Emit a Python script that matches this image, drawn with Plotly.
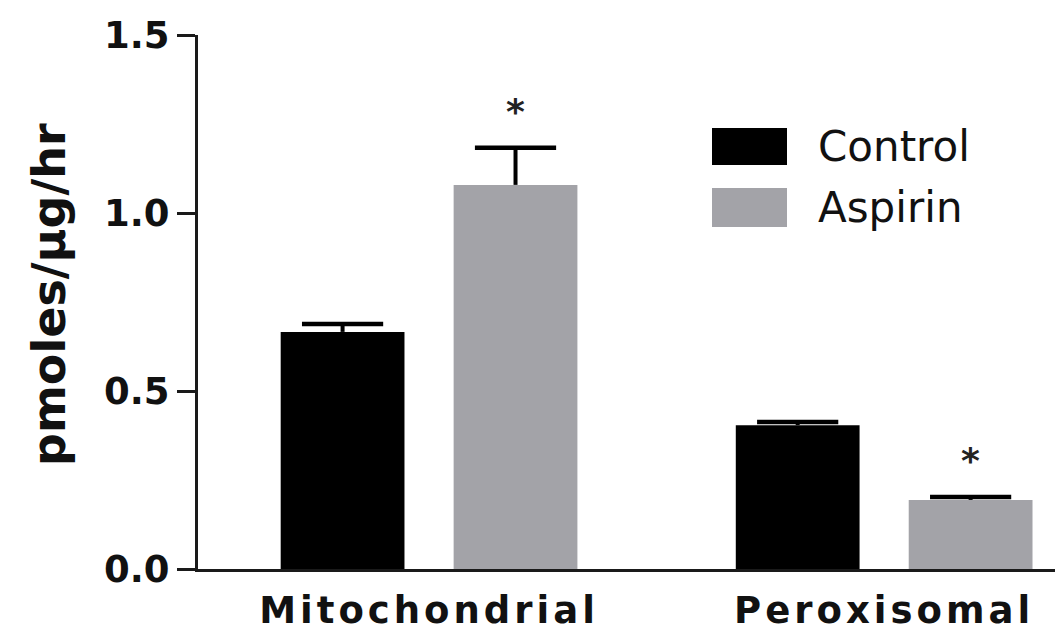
import plotly.graph_objects as go

categories = ["Mitochondrial", "Peroxisomal"]
series_names = ["Control", "Aspirin"]
control_values = [0.666, 0.404]
control_errors = [0.022, 0.009]
aspirin_values = [1.079, 0.194]
aspirin_errors = [0.104, 0.008]
significant = [True, True]  # Aspirin vs Control
y_tick_values = [0.0, 0.5, 1.0, 1.5]
y_tick_labels = ["0.0", "0.5", "1.0", "1.5"]
y_title = "pmoles/µg/hr"

colors = ["#000000", "#a3a3a8"]
bar_width = 0.272
offset = 0.19
idx = list(range(len(categories)))

fig = go.Figure()
series = [(control_values, control_errors), (aspirin_values, aspirin_errors)]
for k, (vals, errs) in enumerate(series):
    sign = -1 if k == 0 else 1
    xs = [i + sign * offset for i in idx]
    fig.add_trace(go.Bar(
        x=xs, y=vals, width=bar_width, name=series_names[k],
        marker=dict(color=colors[k], line=dict(width=0)),
        error_y=dict(type="data", array=errs, arrayminus=[0] * len(errs),
                     symmetric=False, width=0, thickness=4, color="#000000"),
        showlegend=False,
    ))
    fig.add_trace(go.Scatter(
        x=xs, y=[v + e for v, e in zip(vals, errs)], mode="markers",
        marker=dict(symbol="line-ew", size=58, line=dict(width=4.5, color="#000000")),
        showlegend=False, hoverinfo="skip",
    ))

# significance stars above Aspirin bars
for i in idx:
    if significant[i]:
        fig.add_annotation(x=i + offset, y=aspirin_values[i] + aspirin_errors[i],
                           text="<b>*</b>", showarrow=False, yanchor="bottom", yshift=14,
                           font=dict(family="DejaVu Sans", size=36, color="#222222"))

# page offset of the plot div (default body margin) is 8px
PAGE_OFF = 8
FIG_W, FIG_H = 1063 - PAGE_OFF, 636 - PAGE_OFF
L, T, R, B = 198, 35, 1063, 569          # plot area in page pixels
W, H = R - L, B - T
def px(x): return (x - L) / W
def py(y): return (B - y) / H

# legend drawn as large boxes with labels
legend_rows = [(128, 165), (188, 227)]
for k, (top, bot) in enumerate(legend_rows):
    fig.add_shape(type="rect", xref="paper", yref="paper",
                  x0=px(712), x1=px(787), y0=py(bot), y1=py(top),
                  fillcolor=colors[k], line=dict(width=0))
    fig.add_annotation(xref="paper", yref="paper", x=px(816), y=py((top + bot) / 2),
                       text=series_names[k], showarrow=False, xanchor="left", yanchor="middle",
                       font=dict(family="DejaVu Sans", size=42, color="#111111"))

# y-axis title
fig.add_annotation(xref="paper", yref="paper", x=px(49), y=py(295), text="<b>%s</b>" % y_title,
                   textangle=-90, showarrow=False, xanchor="center", yanchor="middle",
                   font=dict(family="DejaVu Sans", size=46, color="#111111"))

ticktext = ['<span style="letter-spacing:4px">%s</span>' % c for c in categories]

fig.update_layout(
    width=FIG_W, height=FIG_H,
    margin=dict(l=L - PAGE_OFF, r=0, t=T - PAGE_OFF, b=FIG_H - (B - PAGE_OFF)),
    plot_bgcolor="white", paper_bgcolor="white",
    xaxis=dict(range=[-0.5077, 1.393], tickvals=idx, ticktext=ticktext,
               showline=True, linecolor="#1a1a1a", linewidth=3, ticks="",
               showgrid=False, zeroline=False, automargin=False, ticklabelstandoff=7,
               tickfont=dict(family="DejaVu Sans", size=37, color="#111111", weight="bold")),
    yaxis=dict(range=[0, 1.5], tickvals=y_tick_values, ticktext=y_tick_labels,
               showline=True, linecolor="#1a1a1a", linewidth=3,
               ticks="outside", ticklen=18, tickwidth=3, tickcolor="#1a1a1a",
               showgrid=False, zeroline=False, automargin=False,
               tickfont=dict(family="DejaVu Sans", size=37, color="#111111", weight="bold")),
)

fig.write_html("out.html")
